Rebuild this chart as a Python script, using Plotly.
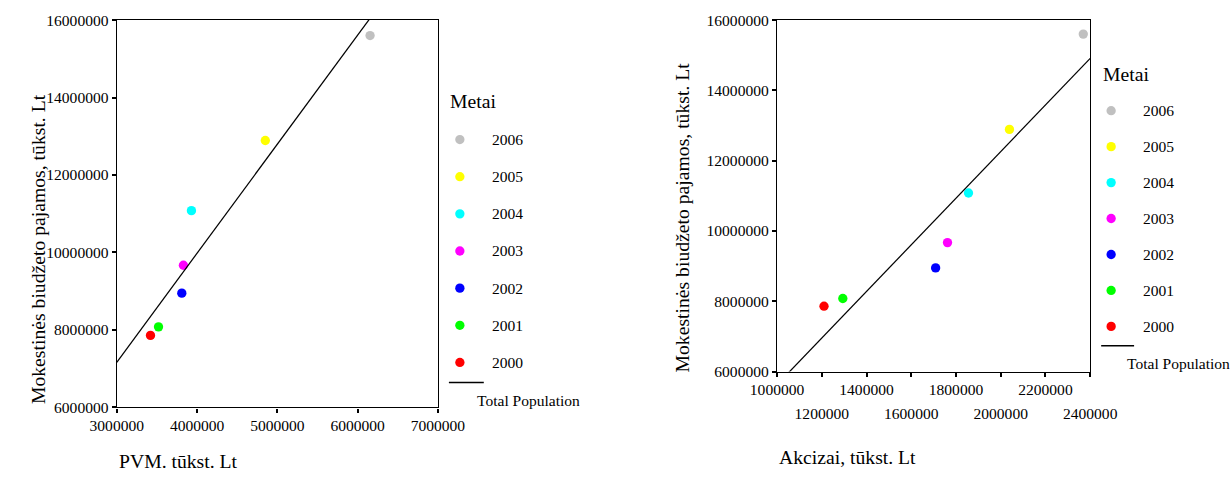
import numpy as np
import plotly.graph_objects as go

# ---------------- data ----------------
years = ["2006", "2005", "2004", "2003", "2002", "2001", "2000"]
year_colors = ["#c0c0c0", "#ffff00", "#00ffff", "#ff00ff", "#0000ff", "#00ff00", "#ff0000"]
revenue = [15600000, 12890000, 11080000, 9670000, 8950000, 8080000, 7860000]
pvm = [6155000, 4850000, 3930000, 3830000, 3810000, 3520000, 3420000]
akcizai = [2369000, 2039000, 1856000, 1762000, 1709000, 1294000, 1210000]

y_ticks = [6000000, 8000000, 10000000, 12000000, 14000000, 16000000]
left_x_ticks = [3000000, 4000000, 5000000, 6000000, 7000000]
right_x_ticks = [1000000, 1200000, 1400000, 1600000, 1800000, 2000000, 2200000, 2400000]

y_title = "Mokestinės biudžeto pajamos, tūkst. Lt"
left_x_title = "PVM. tūkst. Lt"
right_x_title = "Akcizai, tūkst. Lt"
legend_title = "Metai"
fit_name = "Total Population"

# ---------------- layout helpers ----------------
# Observed: the figure appears in the photo scaled by (SCX, SCY) and offset by (AX, AY).
SCX, SCY, AX, AY = 0.96, 0.97, 25.0, 7.9
W, H = 1270, 500
K = 2 / (SCX + SCY)  # size factor
FONT = "Liberation Serif"


def px(x):
    return ((x - AX) / SCX) / W


def py(y):
    return 1 - ((y - AY) / SCY) / H


fig = go.Figure()

# scatter points
for yr, col, rv, p, a in zip(years, year_colors, revenue, pvm, akcizai):
    fig.add_trace(go.Scatter(x=[p], y=[rv], mode="markers", name=yr,
                             marker=dict(color=col, size=9 * K), showlegend=False,
                             xaxis="x", yaxis="y"))
    fig.add_trace(go.Scatter(x=[a], y=[rv], mode="markers", name=yr,
                             marker=dict(color=col, size=9 * K), showlegend=False,
                             xaxis="x2", yaxis="y2"))

# regression lines (Total Population)
for xs, xa, ya, xr in ((pvm, "x", "y", left_x_ticks), (akcizai, "x2", "y2", right_x_ticks)):
    k, b = np.polyfit(np.array(xs, float), np.array(revenue, float), 1)
    lx = np.array([xr[0], xr[-1]], float)
    fig.add_trace(go.Scatter(x=lx, y=k * lx + b, mode="lines", name=fit_name,
                             line=dict(color="black", width=1.2 * K), showlegend=False,
                             xaxis=xa, yaxis=ya))

# empty trace so the second row of right x labels gets its own axis
fig.add_trace(go.Scatter(x=[], y=[], showlegend=False, xaxis="x3", yaxis="y2"))

tick_font = dict(family=FONT, size=15 * K, color="black")
axis_common = dict(showgrid=False, zeroline=False, showline=True, linecolor="black",
                   linewidth=1.1 * K, mirror=True, ticks="outside", ticklen=4 * K,
                   tickwidth=2 * K, tickcolor="black", tickfont=tick_font, tickangle=0)

right_row1 = [str(v) if i % 2 == 0 else "" for i, v in enumerate(right_x_ticks)]
right_row2_vals = right_x_ticks[1::2]

fig.update_layout(
    width=W, height=H, margin=dict(l=0, r=0, t=0, b=0),
    paper_bgcolor="white", plot_bgcolor="white", showlegend=False,
    xaxis=dict(domain=[px(115), px(437)], range=[left_x_ticks[0], left_x_ticks[-1]],
               tickvals=left_x_ticks, ticktext=[str(v) for v in left_x_ticks],
               anchor="y", **axis_common),
    yaxis=dict(domain=[py(408), py(19)], range=[y_ticks[0], y_ticks[-1]],
               tickvals=y_ticks, ticktext=[str(v) for v in y_ticks],
               anchor="x", **axis_common),
    xaxis2=dict(domain=[px(777), px(1091)], range=[right_x_ticks[0], right_x_ticks[-1]],
                tickvals=right_x_ticks, ticktext=right_row1,
                anchor="y2", **axis_common),
    xaxis3=dict(overlaying="x2", anchor="y2", range=[right_x_ticks[0], right_x_ticks[-1]],
                tickvals=right_row2_vals, ticktext=[str(v) for v in right_row2_vals],
                showgrid=False, zeroline=False, showline=False, ticks="outside",
                ticklen=4 * K, tickcolor="rgba(0,0,0,0)", tickfont=tick_font,
                tickangle=0, ticklabelstandoff=int(round(23 / SCY))),
    yaxis2=dict(domain=[py(372), py(19)], range=[y_ticks[0], y_ticks[-1]],
                tickvals=y_ticks, ticktext=[str(v) for v in y_ticks],
                anchor="x2", **axis_common),
)

annotations = []
shapes = []

# axis titles
title_font = dict(family=FONT, size=19 * K, color="black")
annotations.append(dict(text=y_title, x=px(36), y=py(249), xref="paper", yref="paper",
                        textangle=-90, showarrow=False, font=title_font,
                        xanchor="center", yanchor="middle"))
annotations.append(dict(text=y_title, x=px(682), y=py(217), xref="paper", yref="paper",
                        textangle=-90, showarrow=False, font=title_font,
                        xanchor="center", yanchor="middle"))
annotations.append(dict(text=left_x_title, x=px(115), y=py(462), xref="paper", yref="paper",
                        showarrow=False, font=title_font, xanchor="left", yanchor="middle"))
annotations.append(dict(text=right_x_title, x=px(777), y=py(458), xref="paper", yref="paper",
                        showarrow=False, font=title_font, xanchor="left", yanchor="middle"))

# legends
legend_specs = [
    dict(title_x=447, title_y=100, mark_x=459, text_x=489, first_y=139, step=37.3,
         line_x0=448, line_x1=483, line_y=383, fit_x=474, fit_y=401),
    dict(title_x=1102, title_y=73, mark_x=1112, text_x=1142, first_y=110, step=36.1,
         line_x0=1102, line_x1=1135, line_y=346, fit_x=1126, fit_y=364),
]
leg_font = dict(family=FONT, size=15 * K, color="black")
r = 4.5 * K
for s in legend_specs:
    annotations.append(dict(text=legend_title, x=px(s["title_x"]), y=py(s["title_y"]),
                            xref="paper", yref="paper", showarrow=False,
                            font=title_font, xanchor="left", yanchor="middle"))
    for i, (yr, col) in enumerate(zip(years, year_colors)):
        yy = s["first_y"] + i * s["step"]
        shapes.append(dict(type="circle", xref="paper", yref="paper",
                           xsizemode="pixel", ysizemode="pixel",
                           xanchor=px(s["mark_x"]), yanchor=py(yy),
                           x0=-r, x1=r, y0=-r, y1=r,
                           fillcolor=col, line=dict(width=0)))
        annotations.append(dict(text=yr, x=px(s["text_x"]), y=py(yy), xref="paper",
                                yref="paper", showarrow=False, font=leg_font,
                                xanchor="left", yanchor="middle"))
    shapes.append(dict(type="line", xref="paper", yref="paper",
                       x0=px(s["line_x0"]), x1=px(s["line_x1"]),
                       y0=py(s["line_y"]), y1=py(s["line_y"]),
                       line=dict(color="black", width=1.5 * K)))
    annotations.append(dict(text=fit_name, x=px(s["fit_x"]), y=py(s["fit_y"]),
                            xref="paper", yref="paper", showarrow=False, font=leg_font,
                            xanchor="left", yanchor="middle"))

fig.update_layout(annotations=annotations, shapes=shapes)
fig.write_html("out.html")
